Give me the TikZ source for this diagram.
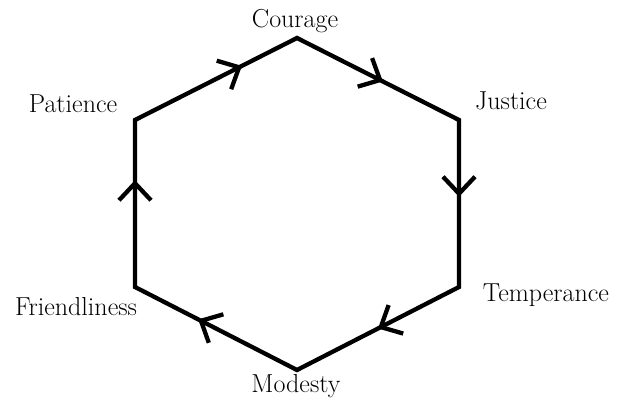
\documentclass[tikz,border=0pt]{standalone}
\usepackage{fontspec}
\usetikzlibrary{arrows.meta,decorations.markings}
\begin{document}
\begin{tikzpicture}[x=1pt,y=-1pt,
  hexline/.style={line width=4.3pt,line join=miter},
  chevron/.style={postaction={decorate},decoration={markings,
     mark=at position #1 with {\arrow[line width=4.3pt]{Straight Barb[length=17pt,width=32pt]}}}},
  lbl/.style={font=\fontsize{26}{30}\selectfont,inner sep=0pt}]
\useasboundingbox (0,0) rectangle (620,401);
\coordinate (co) at (297,38);
\coordinate (ju) at (459,120);
\coordinate (te) at (459,287);
\coordinate (mo) at (297,370);
\coordinate (fr) at (135,287);
\coordinate (pa) at (135,120);
\draw[hexline] (co) -- (ju) -- (te) -- (mo) -- (fr) -- (pa) -- cycle;
\path[chevron=0.66] (pa) -- (co);
\path[chevron=0.53] (co) -- (ju);
\path[chevron=0.46] (ju) -- (te);
\path[chevron=0.50] (te) -- (mo);
\path[chevron=0.61] (mo) -- (fr);
\path[chevron=0.64] (fr) -- (pa);
\node[lbl] (tco) at (295,21) {Courage};
\node[lbl] (tju) at (511,101) {Justice};
\node[lbl] (tte) at (546,295) {Temperance};
\node[lbl] (tmo) at (296,386) {Modesty};
\node[lbl] (tfr) at (76,307) {Friendliness};
\node[lbl] (tpa) at (73,104) {Patience};
\end{tikzpicture}
\end{document}
